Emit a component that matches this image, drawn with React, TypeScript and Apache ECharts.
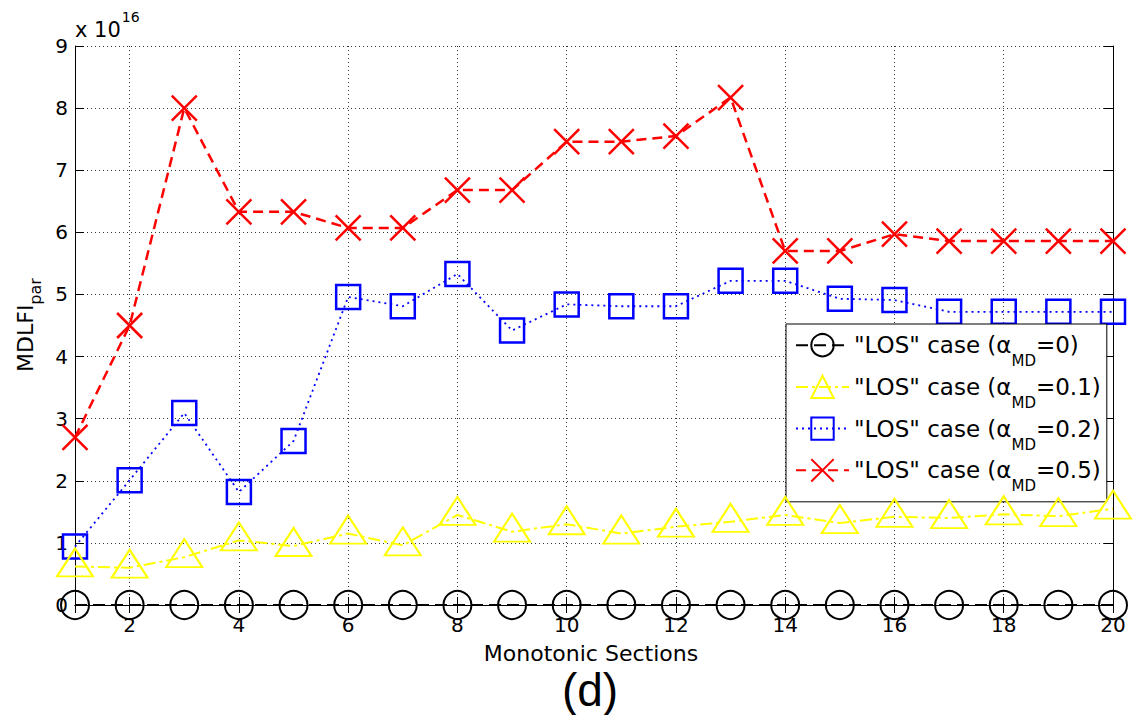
import React, { useEffect, useRef } from "react";
import * as echarts from "echarts";

// Monotonic section index (x axis)
const sections = [1, 2, 3, 4, 5, 6, 7, 8, 9, 10, 11, 12, 13, 14, 15, 16, 17, 18, 19, 20];

// MDLFI_par values, in units of 1e16
const losAlpha0 = [0, 0, 0, 0, 0, 0, 0, 0, 0, 0, 0, 0, 0, 0, 0, 0, 0, 0, 0, 0];
const losAlpha01 = [0.62, 0.6, 0.77, 1.04, 0.95, 1.15, 0.96, 1.45, 1.18, 1.3, 1.15, 1.26, 1.34, 1.45, 1.32, 1.42, 1.4, 1.46, 1.43, 1.55];
const losAlpha02 = [0.94, 2.01, 3.09, 1.82, 2.64, 4.96, 4.81, 5.33, 4.42, 4.84, 4.81, 4.81, 5.22, 5.22, 4.93, 4.91, 4.72, 4.72, 4.72, 4.72];
const losAlpha05 = [2.7, 4.5, 8.0, 6.33, 6.33, 6.07, 6.07, 6.68, 6.68, 7.46, 7.46, 7.55, 8.17, 5.7, 5.7, 5.97, 5.86, 5.86, 5.86, 5.86];

const alphaValues = ["0", "0.1", "0.2", "0.5"];
const seriesNames = alphaValues.map((a) => `"LOS" case (αMD=${a})`);

const FONT = "'DejaVu Sans', sans-serif";
const transparent = "rgba(0,0,0,0)";

export default function App() {
  const ref = useRef<HTMLDivElement>(null);

  useEffect(() => {
    if (!ref.current) return;
    const chart = echarts.init(ref.current, null, { renderer: "svg" });

    const toPairs = (vals: number[]) => sections.map((x, i) => [x, vals[i]]);

    const common = {
      type: "line" as const,
      clip: false,
      silent: true,
      emphasis: { disabled: true },
    };

    const xAxisBase = {
      type: "value" as const,
      min: 1,
      max: 20,
      minInterval: 2,
      maxInterval: 2,
    };
    const yAxisBase = {
      type: "value" as const,
      min: 0,
      max: 9,
      interval: 1,
    };
    const axisLine = { show: true, lineStyle: { color: "#000", width: 1 } };
    const tick = (len: number) => ({ show: true, inside: true, length: len, lineStyle: { color: "#000", width: 1 } });
    const grid = { show: true, lineStyle: { color: "#333", width: 1, type: [1, 3] as number[] } };
    const tickFont = { fontFamily: FONT, fontSize: 20, color: "#000" };

    chart.setOption({
      animation: false,
      backgroundColor: "#fff",
      grid: { left: 75, right: 25, top: 46, bottom: 110 },
      xAxis: [
        {
          ...xAxisBase,
          position: "bottom",
          axisLine,
          axisTick: tick(8),
          splitLine: grid,
          axisLabel: {
            ...tickFont,
            margin: 10,
            formatter: (v: number) => (v % 2 === 0 ? String(v) : ""),
          },
        },
        {
          ...xAxisBase,
          position: "top",
          axisLine,
          axisTick: tick(8),
          splitLine: { show: false },
          axisLabel: { show: false },
        },
      ],
      yAxis: [
        {
          ...yAxisBase,
          position: "left",
          axisLine,
          axisTick: tick(9),
          splitLine: grid,
          axisLabel: { ...tickFont, margin: 7 },
        },
        {
          ...yAxisBase,
          position: "right",
          axisLine,
          axisTick: tick(9),
          splitLine: { show: false },
          axisLabel: { show: false },
        },
      ],
      legend: {
        orient: "vertical",
        left: 786,
        top: 324,
        padding: [9, 6, 8, 9],
        itemGap: 6,
        itemWidth: 53,
        itemHeight: 28,
        backgroundColor: "#fff",
        borderColor: "#000",
        borderWidth: 1,
        borderRadius: 0,
        selectedMode: false,
        data: seriesNames,
        formatter: (name: string) => {
          const i = seriesNames.indexOf(name);
          return `{n|"LOS" case (}{g|α}{s|MD}{n|=${alphaValues[i]})}`;
        },
        textStyle: {
          fontFamily: FONT,
          fontSize: 23,
          color: "#000",
          rich: {
            n: { fontFamily: FONT, fontSize: 23, color: "#000" },
            g: { fontFamily: FONT, fontSize: 23, color: "#000" },
            s: { fontFamily: FONT, fontSize: 15, color: "#000", padding: [32, 0, 0, 0], verticalAlign: "bottom" },
          },
        },
      },
      graphic: [
        {
          type: "text",
          x: 75,
          y: 10,
          silent: true,
          style: {
            text: "{n|x 10}{p|16}",
            align: "left",
            verticalAlign: "top",
            fill: "#000",
            rich: {
              n: { fontFamily: FONT, fontSize: 21, fill: "#000", verticalAlign: "bottom" },
              p: { fontFamily: FONT, fontSize: 14, fill: "#000", verticalAlign: "top", padding: [0, 0, 16, 1] },
            },
          },
        },
        {
          type: "text",
          x: 25,
          y: 325,
          rotation: Math.PI / 2,
          silent: true,
          style: {
            text: "{n|MDLFI}{s|par}",
            align: "center",
            verticalAlign: "middle",
            fill: "#000",
            rich: {
              n: { fontFamily: FONT, fontSize: 22, fill: "#000" },
              s: { fontFamily: FONT, fontSize: 16, fill: "#000", padding: [20, 0, 0, 0], verticalAlign: "bottom" },
            },
          },
        },
        {
          type: "text",
          x: 591,
          y: 653,
          silent: true,
          style: {
            text: "Monotonic Sections",
            font: `22px ${FONT}`,
            fill: "#000",
            align: "center",
            verticalAlign: "middle",
          },
        },
        {
          type: "text",
          x: 590,
          y: 690,
          silent: true,
          style: {
            text: "(d)",
            font: "46px 'Liberation Sans', Arial, sans-serif",
            fill: "#000",
            align: "center",
            verticalAlign: "middle",
          },
        },
      ],
      series: [
        {
          ...common,
          name: seriesNames[0],
          data: toPairs(losAlpha0),
          symbol: "circle",
          symbolSize: 28,
          lineStyle: { color: "#000", width: 2, type: [12, 6] },
          itemStyle: { color: transparent, borderColor: "#000", borderWidth: 2 },
          z: 5,
        },
        {
          ...common,
          name: seriesNames[1],
          data: toPairs(losAlpha01),
          symbol: "triangle",
          symbolSize: [36, 28],
          symbolOffset: [0, -4],
          lineStyle: { color: "#ffff00", width: 2, type: [12, 4, 3, 4] },
          itemStyle: { color: transparent, borderColor: "#ffff00", borderWidth: 2 },
          z: 4,
        },
        {
          ...common,
          name: seriesNames[2],
          data: toPairs(losAlpha02),
          symbol: "rect",
          symbolSize: 24,
          lineStyle: { color: "#0000ff", width: 1.8, type: [2, 4] },
          itemStyle: { color: transparent, borderColor: "#0000ff", borderWidth: 2.5 },
          z: 3,
        },
        {
          ...common,
          name: seriesNames[3],
          data: toPairs(losAlpha05),
          symbol: "path://M0,0L24,24M24,0L0,24",
          symbolSize: 25,
          lineStyle: { color: "#ff0000", width: 2.5, type: [10, 6] },
          itemStyle: { color: transparent, borderColor: "#ff0000", borderWidth: 2.5 },
          z: 2,
        },
      ],
    });

    return () => chart.dispose();
  }, []);

  return (
    <div
      ref={ref}
      style={{ position: "absolute", left: 0, top: 0, width: 1138, height: 715 }}
    />
  );
}
